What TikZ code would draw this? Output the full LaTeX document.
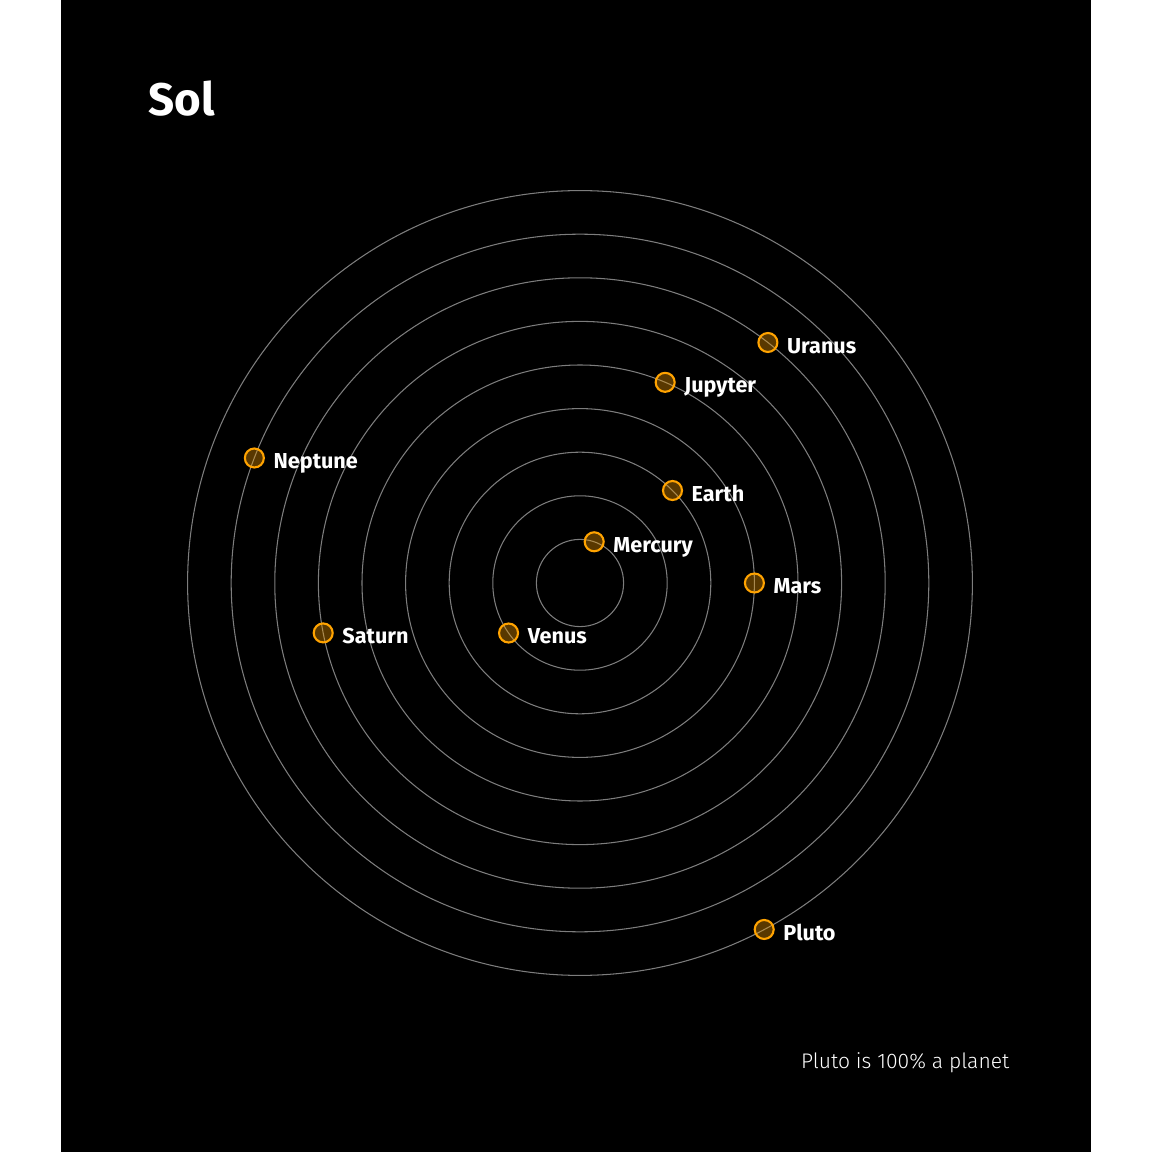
\documentclass[tikz,border=0pt]{standalone}
\usepackage{fontspec}
\setmainfont{Fira Sans}
\newfontfamily\lightfont{Fira Sans Light}
\usetikzlibrary{positioning}
\definecolor{solorange}{RGB}{255,163,0}
\definecolor{orbitgray}{RGB}{125,125,125}

\begin{document}
\begin{tikzpicture}[
        orbit/.style={draw=orbitgray, line width=0.3pt},
        planet/.style={circle, draw=solorange, line width=0.6pt, fill=solorange, fill opacity=0.35, minimum size=0.19cm, inner sep=0pt},
        pname/.style={right=0.08cm of #1, text=white, font=\bfseries\fontsize{6.15}{7}\selectfont, inner sep=0pt, text height=0.6em, text depth=0pt}
    ]
        \useasboundingbox (-5.80,-5.69) rectangle (5.72,5.83);
        \fill[black] (-5.19,-5.69) rectangle (5.11,5.83);

        % Orbits
        \foreach \r in {1,...,9}
            \draw[orbit] (0,0) circle (0.436*\r);

        % Planets on their orbits
        \node[planet] (mercury) at (71:0.436) {};
        \node[planet] (venus) at (215:0.872) {};
        \node[planet] (earth) at (45:1.308) {};
        \node[planet] (mars) at (0:1.744) {};
        \node[planet] (jupyter) at (67:2.18) {};
        \node[planet] (saturn) at (191:2.616) {};
        \node[planet] (uranus) at (52:3.052) {};
        \node[planet] (neptune) at (159:3.488) {};
        \node[planet] (pluto) at (-62:3.924) {};

        % Names
        \node[pname=mercury] (mercurylabel) {Mercury};
        \node[pname=venus] (venuslabel) {Venus};
        \node[pname=earth] (earthlabel) {Earth};
        \node[pname=mars] (marslabel) {Mars};
        \node[pname=jupyter] (jupyterlabel) {Jupyter};
        \node[pname=saturn] (saturnlabel) {Saturn};
        \node[pname=uranus] (uranuslabel) {Uranus};
        \node[pname=neptune] (neptunelabel) {Neptune};
        \node[pname=pluto] (plutolabel) {Pluto};

        % Title and note
        \node[anchor=base west, text=white, font=\bfseries\fontsize{13}{15}\selectfont, inner sep=0pt] (title) at (-4.32,4.67) {Sol};
        \node[anchor=base east, text=white, font=\lightfont\fontsize{6}{7}\selectfont, inner sep=0pt] (note) at (4.30,-4.85) {Pluto is 100\% a planet};
    \end{tikzpicture}
\end{document}
